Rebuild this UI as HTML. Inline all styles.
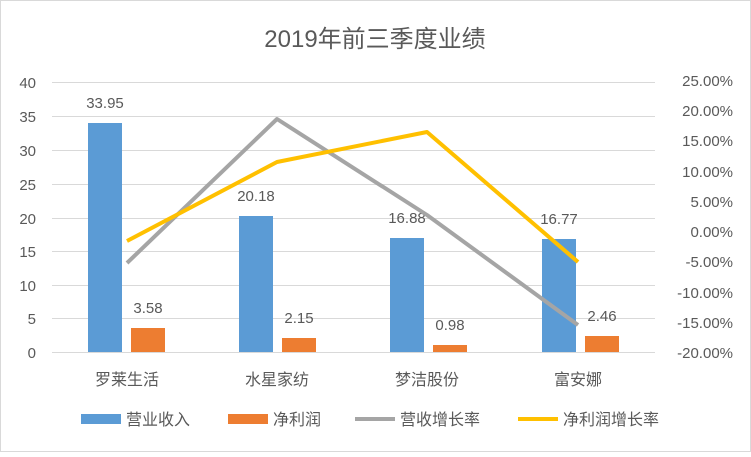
<!DOCTYPE html>
<html><head><meta charset="utf-8"><style>
body{margin:0;background:#fff}
svg text{font-family:"Liberation Sans","Noto Sans CJK SC",sans-serif;fill:#595959}
</style></head><body>
<svg width="751" height="452" viewBox="0 0 751 452">
<rect x="0.5" y="0.5" width="750" height="451" fill="#fff" stroke="#d9d9d9"/>
<text x="375" y="47" font-size="24" text-anchor="middle">2019年前三季度业绩</text>
<g stroke="#d9d9d9" stroke-width="1">
<line x1="52" x2="655" y1="82.5" y2="82.5"/><line x1="52" x2="655" y1="116.5" y2="116.5"/>
<line x1="52" x2="655" y1="150.5" y2="150.5"/><line x1="52" x2="655" y1="184.5" y2="184.5"/>
<line x1="52" x2="655" y1="218.5" y2="218.5"/><line x1="52" x2="655" y1="251.5" y2="251.5"/>
<line x1="52" x2="655" y1="285.5" y2="285.5"/><line x1="52" x2="655" y1="318.5" y2="318.5"/>
<line x1="52" x2="655" y1="352.5" y2="352.5"/>
</g>
<g font-size="15" text-anchor="end">
<text x="36" y="88">40</text><text x="36" y="122">35</text><text x="36" y="156">30</text>
<text x="36" y="190">25</text><text x="36" y="224">20</text><text x="36" y="257">15</text>
<text x="36" y="291">10</text><text x="36" y="324">5</text><text x="36" y="358">0</text>
</g>
<g font-size="15" text-anchor="end">
<text x="733" y="86">25.00%</text><text x="733" y="116">20.00%</text><text x="733" y="146">15.00%</text>
<text x="733" y="177">10.00%</text><text x="733" y="207">5.00%</text><text x="733" y="237">0.00%</text>
<text x="733" y="267">-5.00%</text><text x="733" y="298">-10.00%</text><text x="733" y="328">-15.00%</text>
<text x="733" y="358">-20.00%</text>
</g>
<g fill="#5b9bd5">
<rect x="88" y="123" width="34" height="229"/><rect x="239" y="216" width="34" height="136"/>
<rect x="390" y="238" width="34" height="114"/><rect x="542" y="239" width="34" height="113"/>
</g>
<g fill="#ed7d31">
<rect x="131" y="328" width="34" height="24"/><rect x="282" y="338" width="34" height="14"/>
<rect x="433" y="345" width="34" height="7"/><rect x="585" y="336" width="34" height="16"/>
</g>
<g font-size="15" text-anchor="middle">
<text x="105" y="108">33.95</text><text x="256" y="201">20.18</text>
<text x="407" y="223">16.88</text><text x="559" y="224">16.77</text>
<text x="148" y="313">3.58</text><text x="299" y="323">2.15</text>
<text x="450" y="330">0.98</text><text x="602" y="321">2.46</text>
</g>
<polyline points="127,263 277,119 427,215 578,325" fill="none" stroke="#a5a5a5" stroke-width="4" stroke-linejoin="round"/>
<polyline points="127,241 277,162 427,132 578,262" fill="none" stroke="#ffc000" stroke-width="4" stroke-linejoin="round"/>
<g font-size="16" text-anchor="middle">
<text x="127" y="385">罗莱生活</text><text x="277" y="385">水星家纺</text>
<text x="427" y="385">梦洁股份</text><text x="578" y="385">富安娜</text>
</g>
<rect x="81" y="414" width="40" height="10" fill="#5b9bd5"/>
<text x="126" y="425" font-size="16">营业收入</text>
<rect x="228" y="414" width="40" height="10" fill="#ed7d31"/>
<text x="273" y="425" font-size="16">净利润</text>
<line x1="355" x2="395" y1="419" y2="419" stroke="#a5a5a5" stroke-width="4"/>
<text x="400" y="425" font-size="16">营收增长率</text>
<line x1="518" x2="558" y1="419" y2="419" stroke="#ffc000" stroke-width="4"/>
<text x="563" y="425" font-size="16">净利润增长率</text>
</svg>
</body></html>
